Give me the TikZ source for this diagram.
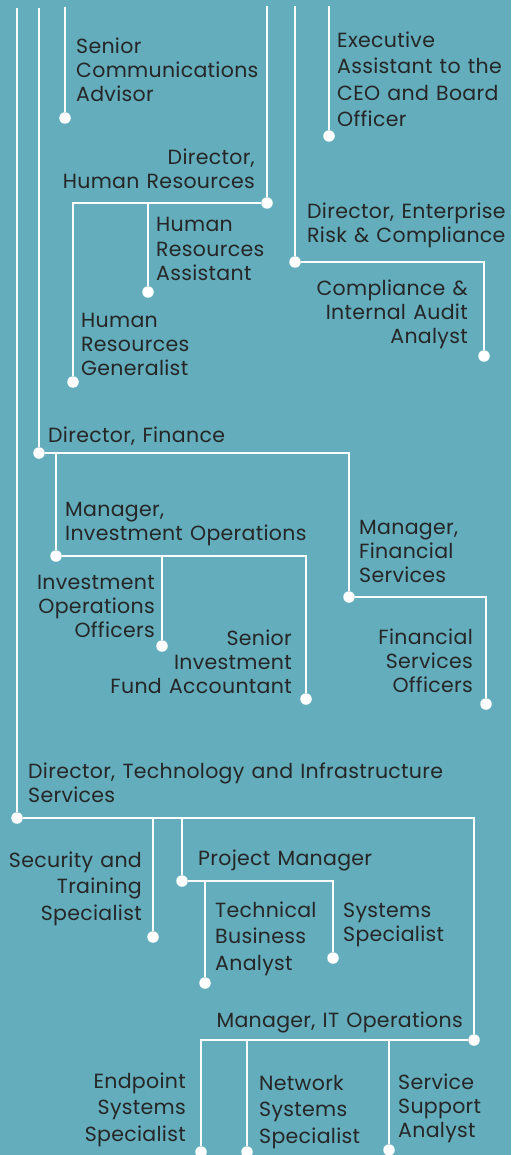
\documentclass[tikz,border=0pt]{standalone}
\usepackage{fontspec}
\setmainfont{Poppins}[LetterSpace=1.5,WordSpace=1.25]
\definecolor{bg}{HTML}{63ADBC}
\definecolor{txt}{HTML}{262626}
\tikzset{
  dot/.style={circle,fill=white,inner sep=0pt,minimum size=11.5pt},
  wire/.style={draw=white,line width=2.7pt},
  lbl/.style={text=txt,inner sep=0pt,font=\fontsize{20.5}{24}\selectfont},
  lblw/.style={lbl,font=\fontsize{20.5}{26.5}\selectfont},
  lw/.style={anchor=base west,align=left},
  le/.style={anchor=base east,align=right}
}
\begin{document}
\begin{tikzpicture}[x=1pt,y=-1pt]
\fill[bg] (0,0) rectangle (511,1155);
\useasboundingbox (0,0) rectangle (511,1155);
% dots
\node[dot] (sca) at (65,118) {};
\node[dot] (exa) at (329,136) {};
\node[dot] (dhr) at (267,203) {};
\node[dot] (hra) at (148,292) {};
\node[dot] (hrg) at (73,382) {};
\node[dot] (derc) at (295,262) {};
\node[dot] (cia) at (484,356) {};
\node[dot] (dfin) at (39,453) {};
\node[dot] (mio) at (56,556) {};
\node[dot] (iopo) at (162,646) {};
\node[dot] (sifa) at (306,699) {};
\node[dot] (mfs) at (349,597) {};
\node[dot] (fso) at (486,704) {};
\node[dot] (dtech) at (17,818) {};
\node[dot] (sts) at (153,937) {};
\node[dot] (pm) at (182,881) {};
\node[dot] (tba) at (205,983) {};
\node[dot] (ss) at (333,958) {};
\node[dot] (mito) at (474,1040) {};
\node[dot] (ess) at (201,1152) {};
\node[dot] (nss) at (247,1152) {};
\node[dot] (ssa) at (389,1150) {};
% top ends
\coordinate (t1) at (17,8);
\coordinate (t2) at (39,8);
\coordinate (t3) at (65,7);
\coordinate (t4) at (267,6);
\coordinate (t5) at (295,6);
\coordinate (t6) at (329,6);
\coordinate (hrc) at (73,203);
% wires
\draw[wire] (t1) -- (dtech);
\draw[wire] (t2) -- (dfin);
\draw[wire] (t3) -- (sca);
\draw[wire] (t4) -- (dhr);
\draw[wire] (t5) -- (derc);
\draw[wire] (t6) -- (exa);
\draw[wire] (dhr) -- (hrc) -- (hrg);
\draw[wire] (hra |- hrc) -- (hra);
\draw[wire] (derc) -- (derc -| cia) -- (cia);
\draw[wire] (dfin) -- (dfin -| mfs) -- (mfs);
\draw[wire] (mfs) -- (mfs -| fso) -- (fso);
\draw[wire] (mio |- dfin) -- (mio);
\draw[wire] (mio) -- (mio -| sifa) -- (sifa);
\draw[wire] (iopo |- mio) -- (iopo);
\draw[wire] (dtech) -- (dtech -| mito) -- (mito);
\draw[wire] (sts |- dtech) -- (sts);
\draw[wire] (pm |- dtech) -- (pm);
\draw[wire] (pm) -- (pm -| ss) -- (ss);
\draw[wire] (tba |- pm) -- (tba);
\draw[wire] (mito) -- (mito -| ess) -- (ess);
\draw[wire] (nss |- mito) -- (nss);
\draw[wire] (ssa |- mito) -- (ssa);
% labels
\node[lbl,lw] (Lsca) at (76,102) {Senior\\Communications\\Advisor};
\node[lblw,lw] (Lexa) at (337,127) {Executive\\Assistant to the\\CEO and Board\\Officer};
\node[lbl,le] (Ldhr) at (255,189) {Director,\\Human Resources};
\node[lbl,lw] (Lhra) at (156,280) {Human\\Resources\\Assistant};
\node[lbl,lw] (Lhrg) at (81,375) {Human\\Resources\\Generalist};
\node[lbl,lw] (Lderc) at (307,243) {Director, Enterprise\\Risk \& Compliance};
\node[lbl,le] (Lcia) at (468,343) {Compliance \&\\Internal Audit\\Analyst};
\node[lbl,lw] (Ldfin) at (48,442) {Director, Finance};
\node[lbl,lw] (Lmio) at (65,540) {Manager,\\Investment Operations};
\node[lbl,le] (Liopo) at (155,637) {Investment\\Operations\\Officers};
\node[lbl,le] (Lsifa) at (292,693) {Senior\\Investment\\Fund Accountant};
\node[lbl,lw] (Lmfs) at (359,582) {Manager,\\Financial\\Services};
\node[lbl,le] (Lfso) at (473,692) {Financial\\Services\\Officers};
\node[lbl,lw] (Ldtech) at (28,802) {Director, Technology and Infrastructure\\Services};
\node[lblw,le] (Lsts) at (142,920) {Security and\\Training\\Specialist};
\node[lbl,lw] (Lpm) at (198,865) {Project Manager};
\node[lblw,lw] (Ltba) at (215,970) {Technical\\Business\\Analyst};
\node[lbl,lw] (Lss) at (343,941) {Systems\\Specialist};
\node[lbl,le] (Lmito) at (463,1027) {Manager, IT Operations};
\node[lblw,le] (Less) at (186,1141) {Endpoint\\Systems\\Specialist};
\node[lblw,lw] (Lnss) at (259,1143) {Network\\Systems\\Specialist};
\node[lbl,lw] (Lssa) at (398,1137) {Service\\Support\\Analyst};
\end{tikzpicture}
\end{document}
